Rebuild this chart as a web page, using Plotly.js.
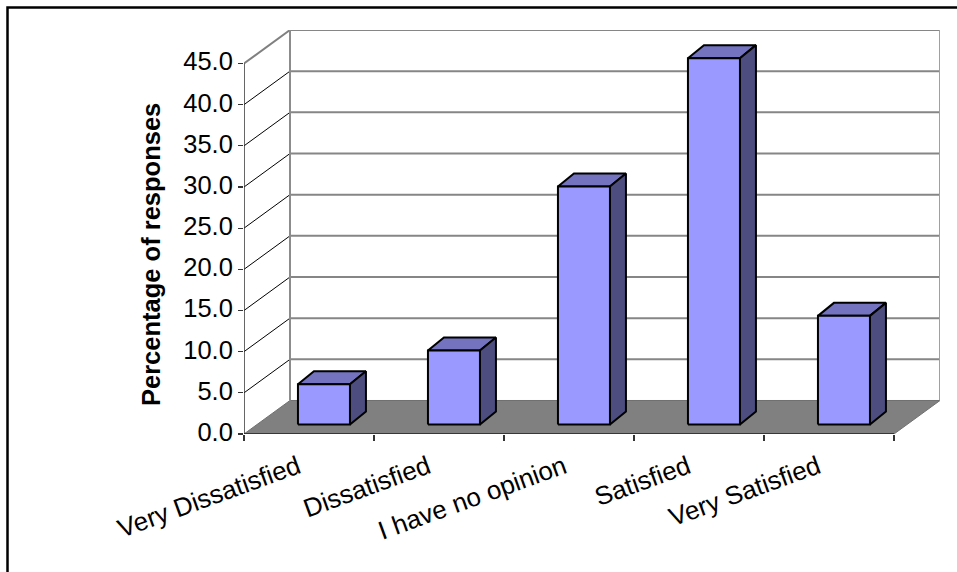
<!DOCTYPE html>
<html>
<head>
<meta charset="utf-8">
<script src="https://cdn.plot.ly/plotly-3.0.0.min.js"></script>
<style>html,body{margin:0;padding:0;background:#fff}#c{width:957px;height:572px}</style>
</head>
<body>
<div id="c"></div>
<script>
const categories = ["Very Dissatisfied", "Dissatisfied", "I have no opinion", "Satisfied", "Very Satisfied"];
const values = [4.9, 9.0, 28.9, 44.5, 13.2];
const yTicks = [0, 5, 10, 15, 20, 25, 30, 35, 40, 45];
const yTitle = "Percentage of responses";

// oblique projection, in axis units
const wallDx = 46 / 130, wallDy = 4.07;
const frontDx = 0.115, frontDy = 1.15;
const barDx = 0.123, barDy = 1.58, barW = 0.4;
const labelNudge = [0, 0, 0.046, 0, 0];

const traces = [];
const addLine = (x, y, color, width) => traces.push({x, y, mode: "lines", type: "scatter", cliponaxis: false,
  hoverinfo: "skip", line: {color, width, simplify: false}});
const addPoly = (x, y, fill, lc, lw) => traces.push({x, y, mode: "lines", type: "scatter", cliponaxis: false,
  hoverinfo: "skip", fill: "toself", fillcolor: fill, line: {color: lc, width: lw, simplify: false}});

const n = categories.length, yTop = yTicks[yTicks.length - 1];

// floor
addPoly([0, n, n + wallDx, wallDx, 0], [0, 0, wallDy, wallDy, 0], "#808080", "#707070", 1);
// back wall grid and side wall
yTicks.slice(1).forEach((v) => {
  addLine([wallDx, n + wallDx], [v + wallDy, v + wallDy], "#868686", 2);
  addLine([0, wallDx], [v, v + wallDy], v === yTop ? "#808080" : "#000000", v === yTop ? 2 : 1);
});
addLine([wallDx, wallDx], [wallDy, yTop + wallDy], "#8c8c8c", 2);
addLine([n + wallDx, n + wallDx], [wallDy, yTop + wallDy], "#a0a0a0", 2);
// axes
addLine([0, 0], [0, yTop], "#333333", 1.5);
addLine([0, n], [0, 0], "#222222", 1.5);

// bars
values.forEach((v, i) => {
  const x0 = i + 0.5 - barW / 2 + frontDx, x1 = x0 + barW, y0 = frontDy, y1 = frontDy + v;
  addPoly([x0, x1, x1 + barDx, x0 + barDx, x0], [y1, y1, y1 + barDy, y1 + barDy, y1], "#7373BF", "#000", 2);
  addPoly([x1, x1 + barDx, x1 + barDx, x1, x1], [y0, y0 + barDy, y1 + barDy, y1, y0], "#4D4D80", "#000", 2);
  addPoly([x0, x1, x1, x0, x0], [y0, y0, y1, y1, y0], "#9999FF", "#000", 2);
});

const font = {family: "Liberation Sans, Arial, sans-serif", color: "#000"};
const layout = {
  width: 957, height: 572, autosize: false,
  margin: {l: 244, r: 17, t: 30, b: 138, pad: 0},
  paper_bgcolor: "#fff", plot_bgcolor: "#fff", showlegend: false,
  xaxis: {
    range: [0, n + wallDx], fixedrange: true, showgrid: false, zeroline: false, showline: false,
    tickmode: "array", tickvals: categories.map((c, i) => i + 0.5 + labelNudge[i]), ticktext: categories,
    ticks: "", tickangle: -20, ticklabelstandoff: 12, ticklabelshift: -11, tickfont: {...font, size: 26},
    minor: {tickmode: "array", tickvals: categories.map((c, i) => i).concat([n]), ticks: "outside",
            ticklen: 6, tickwidth: 1.25, tickcolor: "#333", showgrid: false}
  },
  yaxis: {
    range: [0, yTop + wallDy], fixedrange: true, showgrid: false, zeroline: false, showline: false,
    tickmode: "array", tickvals: yTicks, ticktext: yTicks.map(v => v.toFixed(1)),
    ticks: "outside", ticklen: 5, tickwidth: 1.25, tickcolor: "#333", ticklabelshift: -2, tickfont: {...font, size: 25.5}
  },
  annotations: [{text: "<b>" + yTitle + "</b>", textangle: -90, showarrow: false,
                 xref: "paper", yref: "paper", xanchor: "center", yanchor: "middle",
                 x: (151 - 244) / 696, y: (434 - 255) / 404, font: {...font, size: 25.5}}],
  shapes: [{type: "rect", xref: "paper", yref: "paper",
            x0: (7.5 - 244) / 696, x1: (1100 - 244) / 696,
            y0: (434 - 800) / 404, y1: (434 - 7.5) / 404,
            line: {color: "#000", width: 2.5}, fillcolor: "rgba(0,0,0,0)", layer: "above"}]
};
Plotly.newPlot("c", traces, layout, {displayModeBar: false, staticPlot: true});
</script>
</body>
</html>
